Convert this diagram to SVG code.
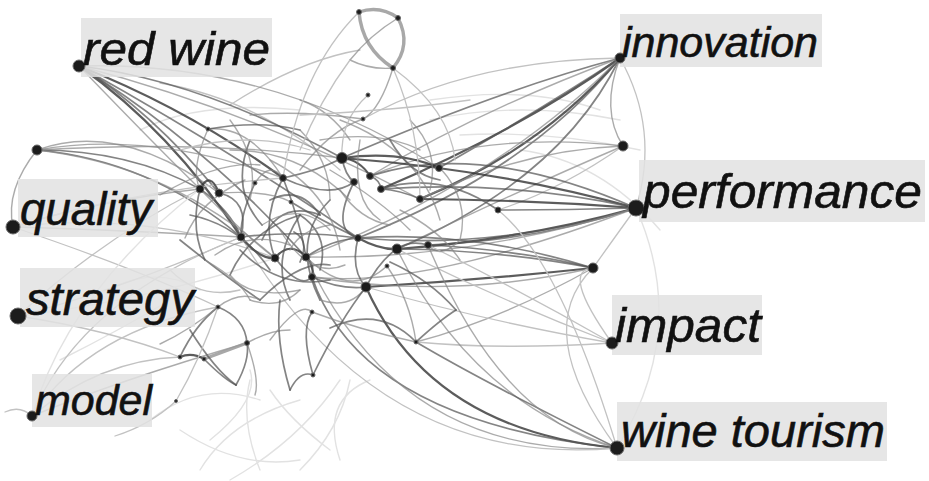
<svg xmlns="http://www.w3.org/2000/svg" width="929" height="481" viewBox="0 0 929 481">
  <style>
    .bg { fill: #ffffff; }
    #links path { fill: none; stroke-linecap: round; }
    .k1 { stroke: #333333; stroke-width: 2.2; opacity: .8; }
    .k2 { stroke: #555555; stroke-width: 1.7; opacity: .72; }
    .k3 { stroke: #888888; stroke-width: 1.4; opacity: .7; }
    .k4 { stroke: #c2c2c2; stroke-width: 1.3; }
    .k5 { stroke: #e2e2e2; stroke-width: 1.4; }
    .thick { stroke: #999999; stroke-width: 3.4; opacity: .85; }
    .dot { fill: #1c1c1c; stroke: #6a6a6a; stroke-width: 1; }
    .box { fill: #e2e2e2; opacity: .85; }
    .lbl { font-family: "Liberation Sans", Arial, sans-serif; font-style: italic; fill: #111111; stroke: #111111; stroke-width: .6; }
  </style>
  <rect class="bg" x="0" y="0" width="929" height="481"/>

  <g id="links">
    <!-- faint background arcs -->
    <path class="k5" d="M200,470 Q230,420 300,400"/>
    <path class="k5" d="M230,480 Q300,440 340,380"/>
    <path class="k5" d="M260,470 Q240,420 250,380"/>
    <path class="k5" d="M330,450 Q290,420 270,390"/>
    <path class="k5" d="M210,440 Q260,400 250,370"/>
    <path class="k5" d="M300,470 Q340,430 350,380"/>
    <path class="k5" d="M180,430 Q240,470 300,460"/>
    <path class="k5" d="M340,460 Q320,400 370,380"/>
    <path class="k5" d="M150,420 Q200,380 260,400"/>
    <path class="k5" d="M430,120 Q520,100 620,120"/>
    <path class="k5" d="M460,135 Q550,130 640,150"/>
    <path class="k5" d="M430,100 Q530,85 600,110"/>
    <path class="k5" d="M140,130 Q200,100 300,110"/>
    <path class="k5" d="M520,150 Q600,160 660,230"/>
    <path class="k5" d="M636,208 Q690,330 617,448"/>
    <path class="k5" d="M90,300 Q150,260 200,290"/>
    <path class="k5" d="M60,360 Q120,330 170,300"/>
    <path class="k4" d="M160,83 Q260,100 340,170"/>
    <path class="k4" d="M230,105 Q300,60 360,50"/>

    <!-- red wine -->
    <path class="k2" d="M79,66 Q200,80 342,158"/>
    <path class="k1" d="M79,66 Q190,110 283,178"/>
    <path class="k1" d="M79,66 Q170,130 241,237"/>
    <path class="k2" d="M79,66 Q200,140 306,257"/>
    <path class="k3" d="M79,66 Q250,110 420,199"/>
    <path class="k2" d="M79,66 Q150,110 219,193"/>
    <path class="k2" d="M79,66 Q230,150 358,238"/>
    <path class="k3" d="M79,66 Q270,60 439,168"/>
    <path class="k3" d="M79,66 Q160,150 200,189"/>

    <!-- left upper node -->
    <path class="k3" d="M37,150 Q150,130 283,178"/>
    <path class="k2" d="M37,150 Q130,150 200,189"/>
    <path class="k2" d="M37,150 Q150,160 241,237"/>
    <path class="k3" d="M37,150 Q170,165 275,258"/>
    <path class="k3" d="M37,150 Q200,140 342,158"/>
    <path class="k3" d="M37,150 Q5,190 13,227"/>
    <path class="k3" d="M37,150 Q120,120 219,193"/>

    <!-- quality -->
    <path class="k3" d="M13,227 Q100,200 200,189"/>
    <path class="k3" d="M13,227 Q120,230 241,237"/>
    <path class="k4" d="M13,227 Q150,210 275,258"/>
    <path class="k4" d="M13,227 Q130,190 283,178"/>
    <path class="k4" d="M13,227 Q140,270 218,307"/>

    <!-- strategy -->
    <path class="k4" d="M18,316 Q100,240 200,189"/>
    <path class="k4" d="M18,316 Q120,290 241,237"/>
    <path class="k4" d="M18,316 Q110,330 180,357"/>
    <path class="k5" d="M18,316 Q150,300 275,258"/>

    <!-- model -->
    <path class="k4" d="M32,416 Q90,330 218,307"/>
    <path class="k4" d="M32,416 Q80,300 241,237"/>
    <path class="k4" d="M32,416 Q100,360 180,357"/>
    <path class="k3" d="M32,416 Q120,380 247,343"/>
    <path class="k5" d="M32,416 Q70,290 200,189"/>
    <path class="k4" d="M5,412 Q20,405 32,416"/>
    <path class="k4" d="M115,436 Q150,425 176,401"/>

    <!-- innovation -->
    <path class="k2" d="M620,58 Q500,90 342,158"/>
    <path class="k1" d="M620,58 Q520,130 381,189"/>
    <path class="k1" d="M620,58 Q540,150 420,199"/>
    <path class="k2" d="M620,58 Q530,170 358,238"/>
    <path class="k2" d="M620,58 Q560,180 397,249"/>
    <path class="k3" d="M620,58 Q480,110 370,176"/>
    <path class="k2" d="M620,58 Q540,110 439,168"/>
    <path class="k3" d="M620,58 Q500,180 306,257"/>
    <path class="k3" d="M620,58 Q600,110 623,146"/>
    <path class="k4" d="M620,58 Q660,130 636,208"/>
    <path class="k4" d="M620,58 Q470,60 363,119"/>

    <!-- right upper node -->
    <path class="k3" d="M623,146 Q520,150 420,199"/>
    <path class="k3" d="M623,146 Q520,190 397,249"/>
    <path class="k3" d="M623,146 Q480,130 370,176"/>
    <path class="k4" d="M623,146 Q560,190 498,210"/>

    <!-- performance -->
    <path class="k1" d="M636,208 Q500,170 342,158"/>
    <path class="k2" d="M636,208 Q510,180 381,189"/>
    <path class="k1" d="M636,208 Q530,200 420,199"/>
    <path class="k2" d="M636,208 Q560,210 498,210"/>
    <path class="k1" d="M636,208 Q520,240 397,249"/>
    <path class="k2" d="M636,208 Q540,240 428,245"/>
    <path class="k2" d="M636,208 Q500,250 358,238"/>
    <path class="k3" d="M636,208 Q470,260 306,257"/>
    <path class="k2" d="M636,208 Q480,140 370,176"/>
    <path class="k3" d="M636,208 Q420,290 312,277"/>

    <!-- right middle node -->
    <path class="k1" d="M593,268 Q480,280 366,287"/>
    <path class="k2" d="M593,268 Q500,250 397,249"/>
    <path class="k2" d="M593,268 Q520,250 428,245"/>
    <path class="k2" d="M593,268 Q470,230 358,238"/>
    <path class="k3" d="M593,268 Q450,300 312,277"/>
    <path class="k4" d="M593,268 Q620,230 636,208"/>
    <path class="k3" d="M593,268 Q500,320 416,342"/>

    <!-- impact -->
    <path class="k4" d="M612,343 Q500,300 397,249"/>
    <path class="k4" d="M612,343 Q520,290 428,245"/>
    <path class="k4" d="M612,343 Q480,320 366,287"/>
    <path class="k4" d="M612,343 Q500,350 416,342"/>
    <path class="k4" d="M612,343 Q560,270 593,268"/>

    <!-- wine tourism -->
    <path class="k1" d="M617,448 Q430,430 366,287"/>
    <path class="k2" d="M617,448 Q360,420 312,277"/>
    <path class="k3" d="M617,448 Q470,400 397,249"/>
    <path class="k2" d="M617,448 Q480,380 416,342"/>
    <path class="k3" d="M617,448 Q400,460 306,257"/>
    <path class="k3" d="M617,448 Q500,420 428,245"/>
    <path class="k4" d="M617,448 Q530,330 593,268"/>
    <path class="k4" d="M617,448 Q560,260 498,210"/>
    <path class="k4" d="M617,448 Q380,470 241,237"/>

    <!-- central cluster -->
    <path class="k1" d="M200,189 Q210,170 219,193"/>
    <path class="k2" d="M200,189 Q230,210 241,237"/>
    <path class="k2" d="M219,193 Q250,200 241,237"/>
    <path class="k1" d="M241,237 Q260,260 275,258"/>
    <path class="k1" d="M275,258 Q290,240 306,257"/>
    <path class="k1" d="M306,257 Q315,265 312,277"/>
    <path class="k2" d="M275,258 Q300,290 312,277"/>
    <path class="k2" d="M283,178 Q300,220 306,257"/>
    <path class="k2" d="M283,178 Q260,220 275,258"/>
    <path class="k2" d="M283,178 Q320,170 342,158"/>
    <path class="k3" d="M255,183 Q270,160 283,178"/>
    <path class="k2" d="M291,202 Q320,220 358,238"/>
    <path class="k2" d="M241,237 Q300,230 358,238"/>
    <path class="k1" d="M342,158 Q360,160 370,176"/>
    <path class="k2" d="M342,158 Q345,175 354,182"/>
    <path class="k2" d="M370,176 Q380,180 381,189"/>
    <path class="k2" d="M354,182 Q330,230 358,238"/>
    <path class="k2" d="M381,189 Q400,190 420,199"/>
    <path class="k1" d="M358,238 Q380,250 397,249"/>
    <path class="k2" d="M397,249 Q410,240 428,245"/>
    <path class="k2" d="M366,287 Q380,260 397,249"/>
    <path class="k2" d="M358,238 Q350,270 366,287"/>
    <path class="k2" d="M312,277 Q340,290 366,287"/>
    <path class="k2" d="M306,257 Q330,240 358,238"/>
    <path class="k1" d="M342,158 Q400,150 439,168"/>
    <path class="k2" d="M381,189 Q440,170 498,210"/>
    <path class="k2" d="M180,240 Q230,280 260,300"/>
    <path class="k3" d="M185,238 Q200,200 245,180"/>
    <path class="k2" d="M230,275 Q250,230 300,215"/>
    <path class="k2" d="M260,300 Q300,260 330,265"/>
    <path class="k2" d="M290,300 Q270,260 300,215"/>
    <path class="k2" d="M330,200 Q290,240 320,300"/>
    <path class="k3" d="M270,160 Q330,190 340,250"/>
    <path class="k2" d="M320,215 Q280,200 262,240"/>
    <path class="k2" d="M240,250 Q280,290 330,280"/>
    <path class="k3" d="M300,290 Q250,300 230,275"/>
    <path class="k3" d="M208,129 Q250,125 283,178"/>
    <path class="k3" d="M208,129 Q190,170 200,189"/>
    <path class="k2" d="M208,129 Q260,120 300,130"/>
    <path class="k3" d="M300,130 Q330,160 330,200"/>
    <path class="k3" d="M160,195 Q220,160 260,165"/>
    <path class="k3" d="M230,150 Q300,150 350,200"/>
    <path class="k3" d="M320,140 Q380,130 420,150"/>
    <path class="k3" d="M400,210 Q440,230 460,260"/>
    <path class="k3" d="M340,120 Q420,150 440,220"/>
    <path class="k3" d="M300,170 Q330,130 363,119"/>
    <path class="k2" d="M255,183 Q240,215 241,237"/>
    <path class="k3" d="M200,189 Q250,240 275,258"/>
    <path class="k3" d="M219,193 Q270,190 291,202"/>
    <path class="k2" d="M283,178 Q330,200 354,182"/>
    <path class="k3" d="M306,257 Q350,300 387,266"/>
    <!-- extra density around the core -->
    <path class="k2" d="M250,140 Q230,190 262,225"/>
    <path class="k3" d="M262,225 Q300,200 330,230"/>
    <path class="k2" d="M190,215 Q240,225 270,270"/>
    <path class="k3" d="M215,255 Q250,230 290,245"/>
    <path class="k2" d="M300,215 Q330,235 320,270"/>
    <path class="k3" d="M280,230 Q310,280 345,265"/>
    <path class="k2" d="M270,200 Q300,185 320,215"/>
    <path class="k3" d="M340,190 Q360,220 390,225"/>
    <path class="k3" d="M330,170 Q380,200 410,230"/>
    <path class="k2" d="M390,140 Q410,175 440,180"/>
    <path class="k3" d="M360,140 Q350,200 380,220"/>
    <path class="k3" d="M410,120 Q440,150 430,190"/>
    <path class="k3" d="M300,100 Q330,110 350,140"/>
    <path class="k3" d="M230,120 Q260,160 250,200"/>
    <path class="k2" d="M200,189 Q190,230 205,260"/>
    <path class="k3" d="M205,260 Q240,280 250,300"/>
    <path class="k3" d="M250,300 Q280,310 300,290"/>
    <path class="k3" d="M320,300 Q350,310 366,287"/>
    <path class="k3" d="M440,168 Q470,200 460,240"/>
    <path class="k3" d="M460,240 Q440,260 428,245"/>
    <path class="k4" d="M180,150 Q250,130 310,150"/>
    <path class="k4" d="M170,270 Q200,300 240,290"/>
    <path class="k3" d="M290,250 Q300,230 330,225"/>
    <path class="k2" d="M294,232 Q310,240 300,262"/>

    <!-- top cluster -->
    <path class="thick" d="M359,12 Q380,5 398,18"/>
    <path class="thick" d="M359,12 Q362,48 393,68"/>
    <path class="thick" d="M398,18 Q412,45 393,68"/>
    <path class="k3" d="M398,18 Q370,35 350,60"/>
    <path class="k3" d="M350,60 Q370,70 393,68"/>
    <path class="k4" d="M393,68 Q420,130 420,199"/>
    <path class="k3" d="M393,68 Q380,110 363,119"/>
    <path class="k4" d="M359,12 Q300,70 283,178"/>
    <path class="k4" d="M350,60 Q320,100 300,150"/>
    <path class="k4" d="M393,68 Q450,110 455,160"/>
    <path class="k4" d="M368,95 Q340,120 342,158"/>
    <path class="k3" d="M363,119 Q300,110 250,115"/>
    <path class="k4" d="M300,115 Q400,110 470,100"/>

    <!-- lower left cluster -->
    <path class="k1" d="M180,357 Q192,352 204,359"/>
    <path class="thick" d="M204,359 Q228,350 247,343"/>
    <path class="k2" d="M180,357 Q195,325 218,307"/>
    <path class="k2" d="M218,307 Q245,318 247,343"/>
    <path class="k2" d="M204,359 Q225,380 236,385"/>
    <path class="k2" d="M190,330 Q215,370 236,385"/>
    <path class="k4" d="M176,401 Q200,360 218,307"/>
    <path class="k3" d="M160,344 Q190,330 218,307"/>
    <path class="k3" d="M218,307 Q240,290 260,300"/>
    <path class="k3" d="M247,343 Q270,330 290,330"/>
    <path class="k3" d="M247,343 Q260,380 255,395"/>
    <path class="k2" d="M236,385 Q250,360 247,343"/>

    <!-- lower wing -->
    <path class="k2" d="M330,328 Q380,305 416,342"/>
    <path class="k2" d="M416,342 Q440,320 456,310"/>
    <path class="k2" d="M456,310 Q430,280 390,262"/>
    <path class="k3" d="M387,266 Q410,300 416,342"/>
    <path class="k3" d="M312,312 Q360,330 416,342"/>
    <path class="k2" d="M313,375 Q300,330 312,312"/>
    <path class="k2" d="M290,390 Q300,370 313,375"/>
    <path class="k2" d="M290,390 Q275,340 280,300"/>
    <path class="k2" d="M313,375 Q340,320 366,287"/>
    <path class="k3" d="M270,340 Q300,300 312,312"/>
  </g>

  <!-- labelled nodes -->
  <g id="node-red-wine">
    <rect class="box" x="81" y="18" width="191" height="59"/>
    <circle class="dot" cx="79" cy="66" r="6"/>
    <text class="lbl" x="83" y="65" font-size="47" textLength="187" lengthAdjust="spacingAndGlyphs">red wine</text>
  </g>
  <g id="node-innovation">
    <rect class="box" x="620" y="14" width="202" height="53"/>
    <circle class="dot" cx="620" cy="58" r="5"/>
    <text class="lbl" x="622" y="57" font-size="42" textLength="196" lengthAdjust="spacingAndGlyphs">innovation</text>
  </g>
  <g id="node-performance">
    <rect class="box" x="639" y="160" width="286" height="62"/>
    <circle class="dot" cx="636" cy="208" r="8"/>
    <text class="lbl" x="643" y="208" font-size="48" textLength="279" lengthAdjust="spacingAndGlyphs">performance</text>
  </g>
  <g id="node-quality">
    <rect class="box" x="18" y="179" width="140" height="58"/>
    <circle class="dot" cx="13" cy="227" r="7"/>
    <text class="lbl" x="20" y="225" font-size="46" textLength="132" lengthAdjust="spacingAndGlyphs">quality</text>
  </g>
  <g id="node-strategy">
    <rect class="box" x="20" y="268" width="175" height="59"/>
    <circle class="dot" cx="18" cy="316" r="8"/>
    <text class="lbl" x="26" y="315" font-size="47" textLength="168" lengthAdjust="spacingAndGlyphs">strategy</text>
  </g>
  <g id="node-model">
    <rect class="box" x="32" y="374" width="120" height="53"/>
    <circle class="dot" cx="32" cy="416" r="5"/>
    <text class="lbl" x="35" y="415" font-size="42" textLength="117" lengthAdjust="spacingAndGlyphs">model</text>
  </g>
  <g id="node-impact">
    <rect class="box" x="612" y="295" width="150" height="60"/>
    <circle class="dot" cx="612" cy="343" r="6"/>
    <text class="lbl" x="615" y="342" font-size="48" textLength="146" lengthAdjust="spacingAndGlyphs">impact</text>
  </g>
  <g id="node-wine-tourism">
    <rect class="box" x="617" y="402" width="270" height="59"/>
    <circle class="dot" cx="617" cy="448" r="7"/>
    <text class="lbl" x="621" y="447" font-size="47" textLength="264" lengthAdjust="spacingAndGlyphs">wine tourism</text>
  </g>

  <!-- unlabelled nodes -->
  <g id="n01"><circle class="dot" cx="37" cy="150" r="5"/></g>
  <g id="n02"><circle class="dot" cx="623" cy="146" r="5"/></g>
  <g id="n03"><circle class="dot" cx="593" cy="268" r="5"/></g>
  <g id="n04"><circle class="dot" cx="342" cy="158" r="5.5"/></g>
  <g id="n05"><circle class="dot" cx="370" cy="176" r="3.5"/></g>
  <g id="n06"><circle class="dot" cx="354" cy="182" r="3.5"/></g>
  <g id="n07"><circle class="dot" cx="381" cy="189" r="3.5"/></g>
  <g id="n08"><circle class="dot" cx="420" cy="199" r="3.5"/></g>
  <g id="n09"><circle class="dot" cx="439" cy="168" r="3.5"/></g>
  <g id="n10"><circle class="dot" cx="498" cy="210" r="3"/></g>
  <g id="n11"><circle class="dot" cx="358" cy="238" r="3.5"/></g>
  <g id="n12"><circle class="dot" cx="397" cy="249" r="5"/></g>
  <g id="n13"><circle class="dot" cx="428" cy="245" r="3.5"/></g>
  <g id="n14"><circle class="dot" cx="366" cy="287" r="5"/></g>
  <g id="n15"><circle class="dot" cx="200" cy="189" r="4"/></g>
  <g id="n16"><circle class="dot" cx="219" cy="193" r="4"/></g>
  <g id="n17"><circle class="dot" cx="241" cy="237" r="4"/></g>
  <g id="n18"><circle class="dot" cx="283" cy="178" r="3.5"/></g>
  <g id="n19"><circle class="dot" cx="275" cy="258" r="4"/></g>
  <g id="n20"><circle class="dot" cx="306" cy="257" r="4"/></g>
  <g id="n21"><circle class="dot" cx="312" cy="277" r="3.5"/></g>
  <g id="n22"><circle class="dot" cx="359" cy="12" r="2.5"/></g>
  <g id="n23"><circle class="dot" cx="398" cy="18" r="2.5"/></g>
  <g id="n24"><circle class="dot" cx="393" cy="68" r="2.5"/></g>
  <g id="n25"><circle class="dot" cx="363" cy="119" r="2"/></g>
  <g id="n26"><circle class="dot" cx="255" cy="183" r="2"/></g>
  <g id="n27"><circle class="dot" cx="291" cy="202" r="2"/></g>
  <g id="n28"><circle class="dot" cx="208" cy="129" r="2"/></g>
  <g id="n29"><circle class="dot" cx="218" cy="307" r="2"/></g>
  <g id="n30"><circle class="dot" cx="247" cy="343" r="2.5"/></g>
  <g id="n31"><circle class="dot" cx="180" cy="357" r="2"/></g>
  <g id="n32"><circle class="dot" cx="204" cy="359" r="2"/></g>
  <g id="n33"><circle class="dot" cx="387" cy="266" r="2"/></g>
  <g id="n34"><circle class="dot" cx="312" cy="312" r="2"/></g>
  <g id="n35"><circle class="dot" cx="313" cy="375" r="2"/></g>
  <g id="n36"><circle class="dot" cx="416" cy="342" r="2"/></g>
  <g id="n37"><circle class="dot" cx="368" cy="95" r="2"/></g>
  <g id="n38"><circle class="dot" cx="176" cy="401" r="1.5"/></g>
</svg>
